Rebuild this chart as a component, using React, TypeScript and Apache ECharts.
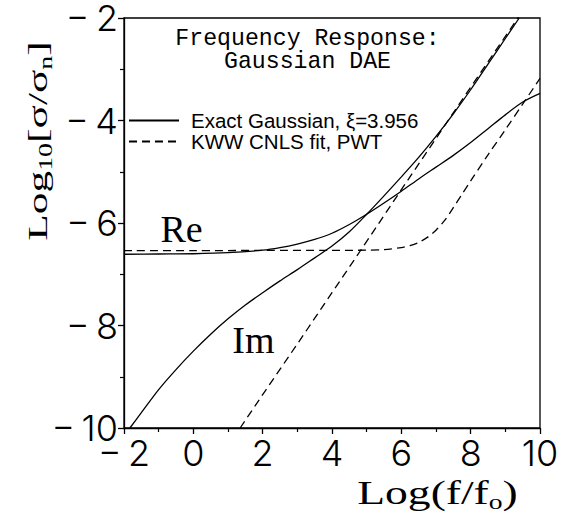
import React, { useEffect, useRef } from "react";
import * as echarts from "echarts";

// ---- data ----
const reExactX = [-2, -1, 0, 1, 2, 2.5, 3, 3.5, 4, 4.5, 5, 5.5, 6, 6.5, 7, 7.5, 8, 8.5, 9, 9.5, 10];
const reExactY = [-6.61, -6.605, -6.6, -6.58, -6.53, -6.48, -6.41, -6.32, -6.2, -6.03, -5.83, -5.61, -5.38, -5.14, -4.91, -4.68, -4.43, -4.16, -3.89, -3.64, -3.47];

const imExactX = [-1.83, -1.5, -1, -0.5, 0, 0.5, 1, 1.5, 2, 2.5, 3, 3.5, 4, 4.5, 5, 5.5, 6, 6.5, 7, 7.5, 8, 8.5, 9, 9.4];
const imExactY = [-10, -9.7, -9.25, -8.86, -8.5, -8.17, -7.87, -7.6, -7.36, -7.13, -6.91, -6.68, -6.45, -6.17, -5.83, -5.47, -5.1, -4.72, -4.31, -3.87, -3.4, -2.9, -2.4, -2.0];

const reKwwX = [-2, 0, 2, 4, 5, 5.5, 6, 6.25, 6.5, 6.75, 7, 7.25, 7.5, 7.75, 8, 8.5, 9, 9.5, 10];
const reKwwY = [-6.54, -6.54, -6.535, -6.535, -6.53, -6.52, -6.48, -6.44, -6.38, -6.28, -6.14, -5.95, -5.7, -5.44, -5.18, -4.67, -4.18, -3.68, -3.18];

const imKwwX = [1.35, 2, 3, 4, 5, 6, 7, 8, 9, 9.4];
const imKwwY = [-10, -9.35, -8.36, -7.36, -6.36, -5.35, -4.35, -3.35, -2.36, -1.96];

const legendNames = ["Exact Gaussian, \u03BE=3.956", "KWW CNLS fit, PWT"];
const curveLabels = [
  { name: "Re", coord: [-0.34, -6.12] },
  { name: "Im", coord: [1.735, -8.29] },
];
const titleLines = ["Frequency Response:", "Gaussian DAE"];
const xTitle = "{m|Log(f/f}{s|o}{m|)}";
const yTitle = "{m|Log}{s|10}{m|[\u03C3/\u03C3}{s|n}{m|]}";

const pairs = (xs: number[], ys: number[]) => xs.map((x, i) => [x, ys[i]]);

export default function App() {
  const ref = useRef<HTMLDivElement>(null);

  useEffect(() => {
    if (!ref.current) return;
    const chart = echarts.init(ref.current, null, { renderer: "svg" });
    const fmt = (v: number) => (v < 0 ? "\u2212\u2009" + Math.abs(v) : String(v));
    const tickLabel = {
      fontFamily: "Inter, 'DejaVu Sans', sans-serif",
      fontWeight: 300,
      fontSize: 36,
      lineHeight: 30,
      color: "#000",
      formatter: fmt,
    };
    const axisCommon = {
      type: "value",
      splitLine: { show: false },
      axisLine: { show: true, onZero: false, lineStyle: { color: "#000", width: 1.3 } },
      axisTick: { show: true, inside: false, length: 6, lineStyle: { color: "#000", width: 1.3 } },
      minorTick: { show: true, splitNumber: 2, length: 4, lineStyle: { color: "#000", width: 1.2 } },
      minorSplitLine: { show: false },
    };
    const serif = "'Liberation Serif', 'Times New Roman', serif";
    const mono = "'Liberation Mono', 'Courier New', monospace";
    const lineBase = {
      type: "line",
      showSymbol: false,
      symbol: "none",
      color: "#000",
      itemStyle: { color: "#000" },
      silent: true,
    };
    const markLabel = (name: string) => ({
      symbol: "circle",
      symbolSize: 1,
      itemStyle: { color: "rgba(0,0,0,0)" },
      silent: true,
      label: {
        show: true,
        position: "inside",
        formatter: "{b}",
        fontFamily: serif,
        fontSize: 38,
        color: "#000",
      },
      data: curveLabels.filter((c) => c.name === name),
    });
    const titleStyle = (text: string) => ({
      text,
      fontFamily: mono,
      fontSize: 23.2,
      lineHeight: 21.7,
      fill: "#000",
      align: "center",
      textAlign: "center",
      verticalAlign: "top",
      textVerticalAlign: "top",
    });
    const thin = { stroke: "#fff", lineWidth: 0.9 };

    chart.setOption({
      animation: false,
      backgroundColor: "#fff",
      grid: {
        left: 124,
        right: 24,
        top: 18,
        bottom: 87,
        show: true,
        borderColor: "#000",
        borderWidth: 1.3,
        backgroundColor: "transparent",
      },
      legend: {
        orient: "vertical",
        left: 128,
        top: 110,
        padding: 0,
        itemWidth: 50,
        itemHeight: 14,
        itemGap: 0,
        selectedMode: false,
        itemStyle: { opacity: 0 },
        data: legendNames,
        textStyle: {
          fontFamily: "'Liberation Sans', Arial, sans-serif",
          fontSize: 20.5,
          lineHeight: 18,
          color: "#000",
          padding: [0, 0, 0, 7],
        },
      },
      xAxis: {
        ...axisCommon,
        min: -2,
        max: 10,
        interval: 2,
        axisLabel: { ...tickLabel, margin: 10 },
      },
      yAxis: {
        ...axisCommon,
        min: -10,
        max: -2,
        interval: 2,
        axisLabel: { ...tickLabel, margin: 6 },
      },
      graphic: [
        { type: "text", x: 307.5, y: 28, silent: true, style: titleStyle(titleLines[0]) },
        { type: "text", x: 307.5, y: 51.2, silent: true, style: titleStyle(titleLines[1]) },
        {
          type: "text",
          x: 437.5,
          y: 493,
          scaleX: 1.38,
          silent: true,
          style: {
            text: xTitle,
            fill: "#000",
            ...thin,
            align: "center",
            textAlign: "center",
            verticalAlign: "middle",
            textVerticalAlign: "middle",
            rich: {
              m: { fontFamily: serif, fontSize: 33, lineHeight: 38, verticalAlign: "middle", fill: "#000", ...thin },
              s: { fontFamily: serif, fontSize: 20, lineHeight: 26, verticalAlign: "bottom", fill: "#000", ...thin },
            },
          },
        },
        {
          type: "text",
          x: 37.6,
          y: 141,
          rotation: Math.PI / 2,
          scaleX: 1.55,
          silent: true,
          style: {
            text: yTitle,
            fill: "#000",
            ...thin,
            align: "center",
            textAlign: "center",
            verticalAlign: "middle",
            textVerticalAlign: "middle",
            rich: {
              m: { fontFamily: serif, fontSize: 28, lineHeight: 34, verticalAlign: "middle", fill: "#000", ...thin },
              s: { fontFamily: serif, fontSize: 18, lineHeight: 24, verticalAlign: "bottom", fill: "#000", ...thin },
            },
          },
        },
      ],
      series: [
        {
          ...lineBase,
          name: legendNames[0],
          data: pairs(reExactX, reExactY),
          smooth: 0.3,
          lineStyle: { color: "#000", width: 1.3, type: "solid" },
          markPoint: markLabel("Re"),
        },
        {
          ...lineBase,
          name: legendNames[0],
          data: pairs(imExactX, imExactY),
          smooth: 0.3,
          lineStyle: { color: "#000", width: 1.3, type: "solid" },
          markPoint: markLabel("Im"),
        },
        {
          ...lineBase,
          name: legendNames[1],
          data: pairs(reKwwX, reKwwY),
          smooth: 0.3,
          lineStyle: { color: "#000", width: 1.3, type: [8, 5] },
        },
        {
          ...lineBase,
          name: legendNames[1],
          data: pairs(imKwwX, imKwwY),
          lineStyle: { color: "#000", width: 1.3, type: [8, 5] },
        },
      ],
    });
    return () => chart.dispose();
  }, []);

  return (
    <div
      ref={ref}
      style={{ position: "fixed", left: 0, top: 0, width: 564, height: 515, background: "#fff" }}
    />
  );
}
